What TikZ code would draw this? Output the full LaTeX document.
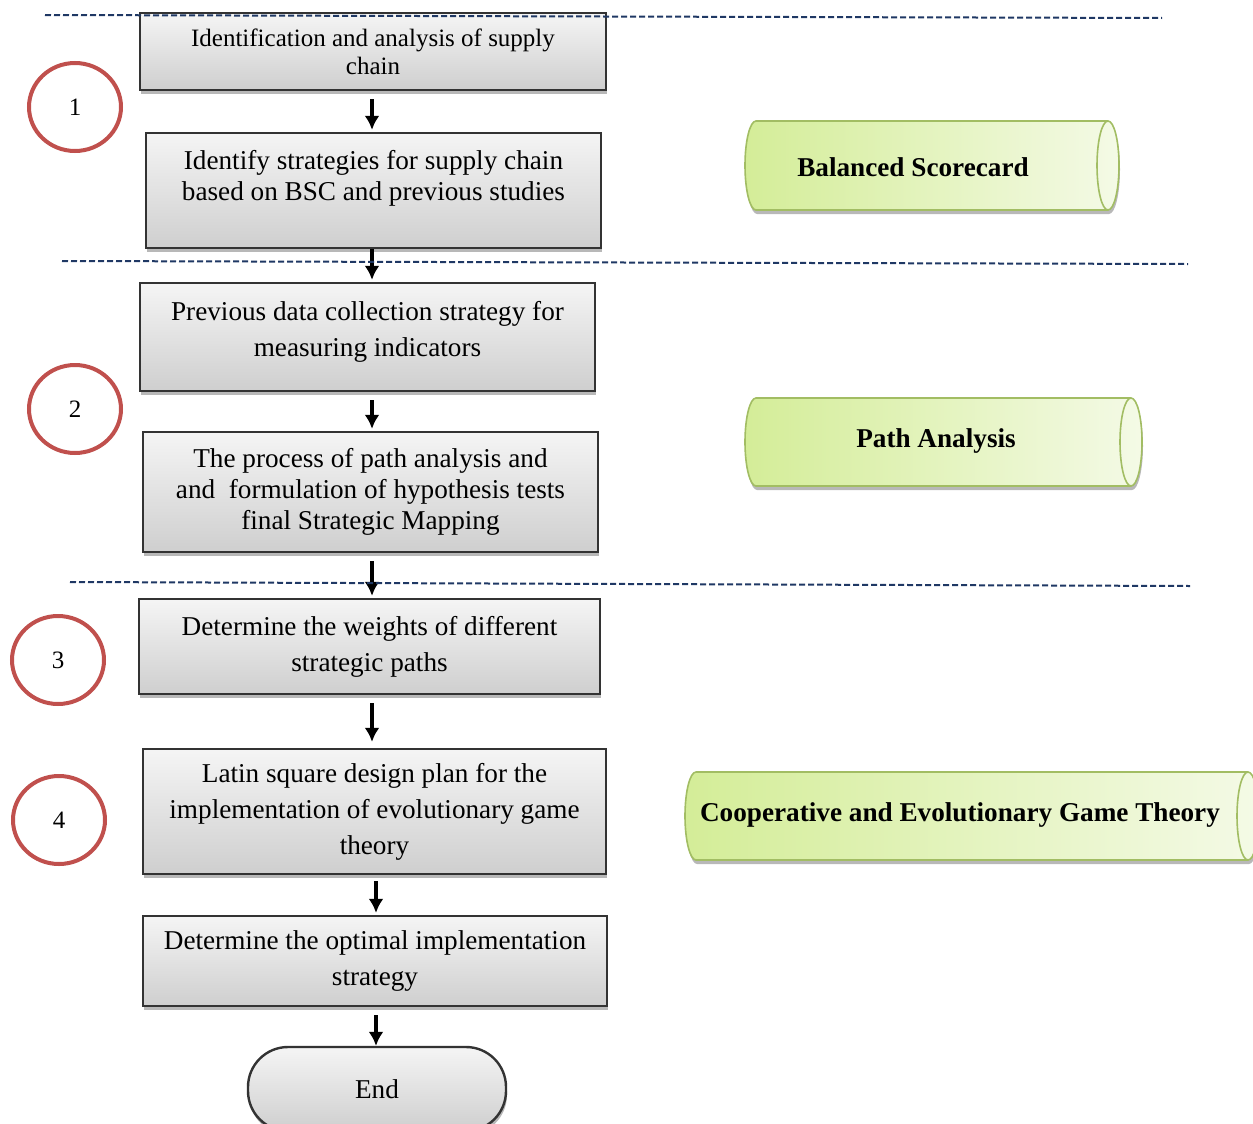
\documentclass[tikz,border=0pt]{standalone}
\usepackage{fontspec}
\setmainfont{Liberation Serif}
\usepackage{tikz}
\usetikzlibrary{positioning, arrows.meta, shapes.geometric, shadows}
\definecolor{numred}{HTML}{C0504D}
\definecolor{sepblue}{HTML}{1F3864}
\definecolor{cylleft}{HTML}{D4ED98}
\definecolor{cylright}{HTML}{F4FAE6}
\definecolor{cylline}{HTML}{A2BD63}
% left end, right end, middle, half height (all in px)
\newcommand{\greencyl}[4]{%
    \path[cylbody] (#2,#3-#4) -- (#1,#3-#4) arc[start angle=90, end angle=270, x radius=5.5pt, y radius=#4*0.5pt]
        -- (#2,#3+#4) arc[start angle=-90, end angle=90, x radius=5.5pt, y radius=#4*0.5pt] -- cycle;
    \draw[cylrim] (#2,#3-#4) arc[start angle=90, end angle=270, x radius=5.5pt, y radius=#4*0.5pt];}

\begin{document}
\begin{tikzpicture}[x=0.5pt, y=-0.5pt,
    box/.style={draw=black!80, line width=1.2pt, top color=gray!8, bottom color=gray!38, align=center, inner sep=2pt,
        font=\fontsize{13.6}{18}\selectfont, drop shadow={shadow xshift=0.5pt, shadow yshift=-2pt, fill=gray!70, opacity=0.8}},
    cylbody/.style={draw=cylline, line width=0.8pt, left color=cylleft, right color=cylright,
        drop shadow={shadow xshift=0.5pt, shadow yshift=-2pt, fill=gray!70, opacity=0.8}},
    cylrim/.style={draw=cylline, line width=0.8pt},
    cyltext/.style={font=\fontsize{13.6}{16}\selectfont\bfseries, inner sep=0pt},
    num/.style={ellipse, draw=numred, line width=2pt, minimum width=46pt, minimum height=44pt, inner sep=0pt,
        font=\fontsize{12.5}{14}\selectfont},
    arr/.style={line width=2pt, -{Latex[length=7pt, width=7.5pt]}, shorten <=4pt, shorten >=1pt},
    sep/.style={draw=sepblue, line width=1pt, dash pattern=on 3pt off 1.5pt}]
    \useasboundingbox (0,0) rectangle (1253,1124);

    \node[box, minimum width=233pt, minimum height=38.5pt, font=\fontsize{12.5}{14}\selectfont](ident) at (373,51.5){Identification and analysis of supply\\chain};
    \node[box, minimum width=227.5pt, minimum height=57.5pt, font=\fontsize{13.6}{15.5}\selectfont](strat) at (373.5,190.5){Identify strategies for supply chain\\based on BSC and previous studies\\[-0.5pt]\mbox{}};
    \node[box, minimum width=227.5pt, minimum height=54pt](collect) at (367.5,337){Previous data collection strategy for\\measuring indicators\\[-10pt]\mbox{}};
    \node[box, minimum width=227.5pt, minimum height=60pt, font=\fontsize{13.6}{15.5}\selectfont](path) at (370.5,492){The process of path analysis and\\and~ formulation of hypothesis tests\\final Strategic Mapping};
    \node[box, minimum width=230.5pt, minimum height=47.5pt](weights) at (369.5,646.5){Determine the weights of different\\strategic paths};
    \node[box, minimum width=231.5pt, minimum height=62.5pt](latin) at (374.5,811.5){Latin square design plan for the\\implementation of evolutionary game\\theory};
    \node[box, minimum width=232pt, minimum height=45pt](optimal) at (375,961){Determine the optimal implementation\\strategy};
    \node[box, rounded corners=20pt, minimum width=129pt, minimum height=42pt](end) at (377,1089){End};

    \node[num](n1) at (75,107){1};
    \node[num](n2) at (75,409){2};
    \node[num](n3) at (58,660){3};
    \node[num](n4) at (59,820){4};

    \greencyl{756}{1108}{165.5}{44.5}
    \greencyl{756}{1131}{442}{44}
    \greencyl{696}{1248}{816}{44}
    \node[cyltext](bsc) at (913,167){Balanced Scorecard};
    \node[cyltext](pa) at (936,441){Path Analysis};
    \node[cyltext](game) at (960,815){Cooperative and Evolutionary Game Theory};

    \coordinate (ax) at (372,0);
    \coordinate (bx) at (376,0);
    \draw[arr] (ident.south -| ax) -- (strat.north -| ax);
    \draw[arr, shorten <=0pt] (strat.south -| ax) -- (collect.north -| ax);
    \draw[arr] (collect.south -| ax) -- (path.north -| ax);
    \draw[arr] (path.south -| ax) -- (weights.north -| ax);
    \draw[arr, shorten >=3pt] (weights.south -| ax) -- (latin.north -| ax);
    \draw[arr, shorten <=3pt] (latin.south -| bx) -- (optimal.north -| bx);
    \draw[arr, shorten >=0pt] (optimal.south -| bx) -- (end.north -| bx);

    \coordinate (s1a) at (45,15);
    \coordinate (s1b) at (1162,18);
    \coordinate (s2a) at (62,261);
    \coordinate (s2b) at (1188,264);
    \coordinate (s3a) at (70,582);
    \coordinate (s3b) at (1190,586);
    \draw[sep] (s1a) -- (s1b);
    \draw[sep] (s2a) -- (s2b);
    \draw[sep] (s3a) -- (s3b);
\end{tikzpicture}
\end{document}
